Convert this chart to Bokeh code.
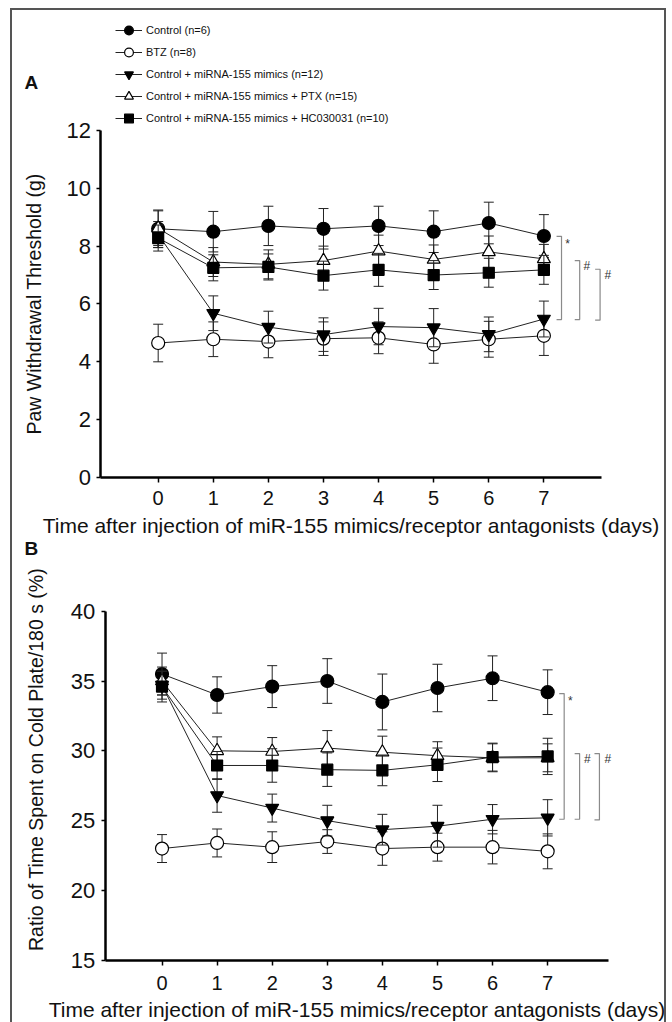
import math
from bokeh.plotting import figure
from bokeh.models import Range1d, Legend, LegendItem, Label, LabelSet, FixedTicker, ColumnDataSource
from bokeh.layouts import column
from bokeh.embed import file_html
from bokeh.resources import INLINE
from bokeh.core.properties import value

FONT = "Liberation Sans"

days = [0, 1, 2, 3, 4, 5, 6, 7]
names = ["Control (n=6)", "BTZ (n=8)", "Control + miRNA-155 mimics (n=12)",
         "Control + miRNA-155 mimics + PTX (n=15)", "Control + miRNA-155 mimics + HC030031 (n=10)"]

# Panel A: paw withdrawal threshold (g)
a_control = [8.6, 8.5, 8.7, 8.6, 8.7, 8.5, 8.8, 8.35]
a_control_err = [0.65, 0.7, 0.68, 0.7, 0.68, 0.72, 0.72, 0.74]
a_btz = [4.65, 4.78, 4.7, 4.8, 4.83, 4.6, 4.78, 4.9]
a_btz_err = [0.65, 0.6, 0.56, 0.58, 0.55, 0.65, 0.62, 0.68]
a_mimics = [8.4, 5.68, 5.2, 4.94, 5.22, 5.18, 4.95, 5.48]
a_mimics_err = [0.45, 0.6, 0.55, 0.58, 0.63, 0.66, 0.6, 0.62]
a_ptx = [8.62, 7.45, 7.37, 7.5, 7.83, 7.54, 7.8, 7.56]
a_ptx_err = [0.6, 0.5, 0.5, 0.5, 0.55, 0.5, 0.55, 0.5]
a_hc = [8.28, 7.25, 7.28, 6.98, 7.18, 7.0, 7.08, 7.18]
a_hc_err = [0.45, 0.45, 0.45, 0.5, 0.57, 0.5, 0.5, 0.5]

# Panel B: ratio of time spent on cold plate (%)
b_control = [35.5, 34.0, 34.6, 35.0, 33.5, 34.5, 35.2, 34.2]
b_control_err = [1.5, 1.3, 1.5, 1.6, 2.0, 1.7, 1.6, 1.6]
b_btz = [23.0, 23.4, 23.1, 23.5, 23.0, 23.1, 23.1, 22.8]
b_btz_err = [1.0, 1.0, 1.1, 0.85, 1.2, 1.0, 1.2, 1.25]
b_mimics = [34.7, 26.8, 25.9, 25.0, 24.35, 24.6, 25.1, 25.2]
b_mimics_err = [1.0, 1.2, 1.0, 1.1, 1.1, 1.5, 1.05, 1.3]
b_ptx = [35.0, 30.0, 29.95, 30.2, 29.9, 29.65, 29.5, 29.5]
b_ptx_err = [1.0, 1.0, 1.0, 1.25, 1.15, 1.0, 1.0, 1.0]
b_hc = [34.6, 28.95, 28.95, 28.65, 28.6, 29.0, 29.55, 29.6]
b_hc_err = [1.1, 1.0, 1.2, 1.2, 1.1, 1.2, 1.0, 1.3]

a_yticks = [0, 2, 4, 6, 8, 10, 12]
b_yticks = [15, 20, 25, 30, 35, 40]

# significance brackets: x, top, bottom, symbol
a_br_x = [7.32, 7.65, 8.02]
a_br_top = [8.34, 7.5, 7.2]
a_br_bot = [5.46, 5.46, 5.44]
b_br_x = [7.30, 7.58, 7.94]
b_br_top = [34.1, 29.8, 29.8]
b_br_bot = [25.1, 25.1, 25.05]
br_sym = ["*", "#", "#"]

styles = [  # marker, fill, size
    ("circle", "black", 13),
    ("circle", "white", 13),
    ("inverted_triangle", "black", 13),
    ("triangle", "white", 13),
    ("square", "black", 11),
]

XTITLE = "Time after injection of miR-155 mimics/receptor antagonists (days)"


def make_panel(series, errs, xr, yr, x_bounds, y_bounds, yticks, w, h,
               xlab_standoff, xtitle_standoff):
    p = figure(frame_width=w, frame_height=h, output_backend="svg",
               toolbar_location=None, x_range=Range1d(*xr), y_range=Range1d(*yr),
               min_border=0, outline_line_color=None,
               background_fill_color="white", border_fill_color="white")
    p.xgrid.visible = False
    p.ygrid.visible = False
    for ax in (p.xaxis[0], p.yaxis[0]):
        ax.axis_line_width = 2.5
        ax.axis_line_color = "black"
        ax.major_tick_line_width = 1.5
        ax.major_tick_line_color = "black"
        ax.major_tick_in = 0
        ax.minor_tick_line_color = None
        ax.major_label_text_font = FONT
        ax.axis_label_text_font = FONT
        ax.axis_label_text_font_style = "normal"
        ax.axis_label_text_color = "#111"
        ax.major_label_text_color = "#111"
    p.xaxis.fixed_location = y_bounds[0]
    p.yaxis.fixed_location = x_bounds[0]
    p.xaxis.bounds = x_bounds
    p.yaxis.bounds = y_bounds
    p.xaxis.ticker = FixedTicker(ticks=days)
    p.yaxis.ticker = FixedTicker(ticks=yticks)
    p.xaxis.major_tick_out = 5
    p.yaxis.major_tick_out = 4
    p.xaxis.major_label_text_font_size = "20px"
    p.yaxis.major_label_text_font_size = "22px"
    p.xaxis.major_label_standoff = xlab_standoff
    p.yaxis.major_label_standoff = 6
    p.xaxis.axis_label = XTITLE
    p.xaxis.axis_label_text_font_size = "21px"
    p.xaxis.axis_label_standoff = xtitle_standoff

    items = []
    for (mk, fill, size), ys, es, name in zip(styles, series, errs, names):
        lo = [y - e for y, e in zip(ys, es)]
        hi = [y + e for y, e in zip(ys, es)]
        src = ColumnDataSource(dict(x=days, y=ys, lo=lo, hi=hi))
        p.segment(x0="x", y0="lo", x1="x", y1="hi", source=src, line_color="#222", line_width=1)
        p.scatter(x="x", y="lo", source=src, marker="dash", size=10, line_color="#222", line_width=1)
        p.scatter(x="x", y="hi", source=src, marker="dash", size=10, line_color="#222", line_width=1)
        lr = p.line(x="x", y="y", source=src, line_color="#222", line_width=1)
        mr = p.scatter(x="x", y="y", source=src, marker=mk, size=size, fill_color=fill,
                       line_color="black", line_width=1.2)
        items.append(LegendItem(label=name, renderers=[lr, mr]))
    return p, items


def add_brackets(p, bx, btop, bbot, dx_sym, dy_sym):
    xs, ys = [], []
    for x, t, b in zip(bx, btop, bbot):
        xs.append([x - 0.09, x, x, x - 0.09])
        ys.append([t, t, b, b])
    p.multi_line(xs=xs, ys=ys, line_color="#8a8a8a", line_width=1.2)
    src = ColumnDataSource(dict(x=[x + dx for x, dx in zip(bx, dx_sym)],
                                y=[t - dy for t, dy in zip(btop, dy_sym)], t=br_sym))
    p.add_layout(LabelSet(x="x", y="y", text="t", source=src, text_font=value(FONT),
                          text_font_size="12px", text_color="#333",
                          text_baseline="middle", text_align="left"))


def ytitle(p, x, y, text):
    p.add_layout(Label(x=x, y=y, text=text, angle=math.pi / 2, text_font=FONT,
                       text_font_size="19.5px", text_color="#111",
                       text_align="center", text_baseline="middle"))


def panel_letter(p, x, y, text):
    p.add_layout(Label(x=x, y=y, text=text, text_font=FONT, text_font_size="19px",
                       text_font_style="bold", text_baseline="middle", text_align="left",
                       text_color="#111"))


# ---------- Panel A ----------
pA, itemsA = make_panel([a_control, a_btz, a_mimics, a_ptx, a_hc],
                        [a_control_err, a_btz_err, a_mimics_err, a_ptx_err, a_hc_err],
                        (-2.644, 9.189), (-2.075, 16.148), (-1.04, 8.05), (0, 12),
                        a_yticks, 652, 527, 9, 5)
add_brackets(pA, a_br_x, a_br_top, a_br_bot, [0.07, 0.07, 0.08], [0.25, 0.17, 0.2])
legend = Legend(items=itemsA, location=(103, 408), orientation="vertical",
                label_text_font=FONT, label_text_font_size="11px", label_text_color="#111",
                glyph_width=27, glyph_height=22, label_height=22, spacing=0,
                label_standoff=4, padding=0, margin=0, border_line_color=None,
                background_fill_alpha=0)
pA.add_layout(legend)
panel_letter(pA, -2.426, 13.658, "A")
ytitle(pA, -2.26, 6.0, "Paw Withdrawal Threshold (g)")

# ---------- Panel B ----------
pB, _ = make_panel([b_control, b_btz, b_mimics, b_ptx, b_hc],
                   [b_control_err, b_btz_err, b_mimics_err, b_ptx_err, b_hc_err],
                   (-2.714, 9.121), (10.54, 45.28), (-1.03, 8.1), (15, 40),
                   b_yticks, 652, 485, 11, 4)
add_brackets(pB, b_br_x, b_br_top, b_br_bot, [0.07, 0.08, 0.09], [0.55, 0.4, 0.4])
panel_letter(pB, -2.496, 44.49, "B")
ytitle(pB, -2.28, 29.38, "Ratio of Time Spent on Cold Plate/180 s (%)")

layout = column(pA, pB, margin=(8, 0, 0, 10),
                styles={"border-top": "2px solid #555", "border-left": "2px solid #555",
                        "border-right": "2px solid #555"})

open("out.html", "w").write(file_html(layout, INLINE))
